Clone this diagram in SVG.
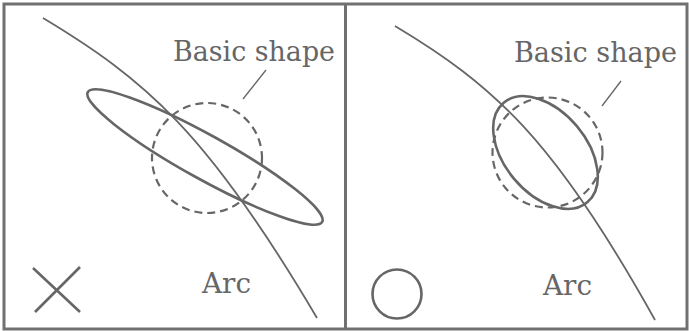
<svg xmlns="http://www.w3.org/2000/svg" width="689" height="331" viewBox="0 0 689 331">
<style>
.frame{fill:none;stroke:#707070;stroke-width:3}
.arc{fill:none;stroke:#666;stroke-width:1.8}
.shape{fill:none;stroke:#666;stroke-width:2.6}
.basic{fill:none;stroke:#666;stroke-width:2.2;stroke-dasharray:8 5}
.lead{fill:none;stroke:#666;stroke-width:1.3}
.lbl{font-family:"DejaVu Serif","Liberation Serif",serif;font-size:27px;fill:#666}
</style>
<rect width="689" height="331" fill="#fff"/>
<g id="frame">
<rect class="frame" x="4" y="4" width="683" height="325"/>
<line class="frame" x1="345.5" y1="4" x2="345.5" y2="329" stroke-width="2.5"/>
</g>
<g id="left-panel">
<g id="left-arc"><path class="arc" d="M43,18 C144.5,79 207.5,132 317,318"/></g>
<g id="left-basic"><circle class="basic" cx="207" cy="158" r="55"/></g>
<g id="left-ellipse"><ellipse class="shape" cx="205" cy="157" rx="134" ry="22" transform="rotate(29 205 157)"/></g>
<g id="left-label-basic"><text class="lbl" x="173" y="61" textLength="162" lengthAdjust="spacingAndGlyphs">Basic shape</text></g>
<g id="left-label-arc"><text class="lbl" x="202" y="293" textLength="49" lengthAdjust="spacingAndGlyphs">Arc</text></g>
<g id="left-mark">
<line class="shape" x1="33" y1="268" x2="80" y2="312" stroke-width="2.2"/>
<line class="shape" x1="80" y1="267" x2="35" y2="312" stroke-width="2.2"/>
</g>
</g>
<g id="right-panel">
<g id="right-arc"><path class="arc" d="M395,26 C493,84.8 554,138.4 655,320"/></g>
<g id="right-basic"><circle class="basic" cx="547.5" cy="152.5" r="55"/></g>
<g id="right-ellipse"><ellipse class="shape" cx="545.5" cy="152.5" rx="65" ry="41" transform="rotate(50 545.5 152.5)"/></g>
<g id="right-label-basic"><text class="lbl" x="514" y="62" textLength="163" lengthAdjust="spacingAndGlyphs">Basic shape</text></g>
<g id="right-label-arc"><text class="lbl" x="543" y="295" textLength="49" lengthAdjust="spacingAndGlyphs">Arc</text></g>
<g id="right-mark"><circle class="shape" cx="397" cy="294" r="24.5" stroke-width="2.2"/></g>
</g>
<g id="connectors">
<line class="lead" x1="266" y1="70" x2="243" y2="99"/>
<line class="lead" x1="621" y1="81" x2="602" y2="106"/>
</g>
</svg>
